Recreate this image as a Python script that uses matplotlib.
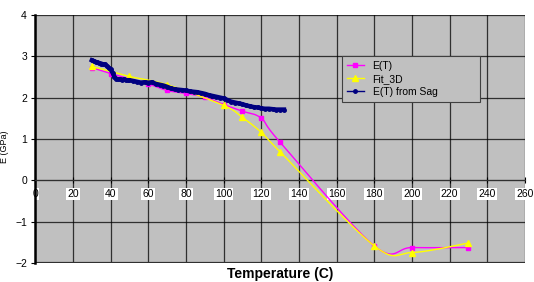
import numpy as np
import matplotlib
matplotlib.use("Agg")
import matplotlib.pyplot as plt

plt.rcParams['font.family'] = ['Liberation Sans', 'DejaVu Sans']

# E(T) measured points
t_e = [30, 40, 50, 60, 70, 80, 90, 100, 110, 120, 130, 180, 200, 230]
e_e = [2.72, 2.58, 2.45, 2.33, 2.17, 2.10, 2.01, 1.83, 1.67, 1.50, 0.92, -1.58, -1.62, -1.62]

# Fit_3D points
t_fit = [30, 50, 70, 100, 110, 120, 130, 180, 200, 230]
e_fit = [2.75, 2.51, 2.31, 1.81, 1.52, 1.16, 0.69, -1.58, -1.74, -1.51]

# E(T) from Sag (dense trace)
t_sag = [30, 31, 32, 33, 34, 35, 36, 37, 38, 39, 40, 41, 42, 43, 44, 45, 46, 47, 48, 49,
         50, 52, 54, 56, 58, 60, 62, 64, 66, 68, 70, 72, 74, 76, 78, 80, 82, 84, 86, 88,
         90, 92, 94, 96, 98, 100, 102, 104, 106, 108, 110, 112, 114, 116, 118, 120, 122,
         124, 126, 128, 130, 132]
e_sag = [2.90, 2.88, 2.86, 2.85, 2.83, 2.82, 2.80, 2.80, 2.76, 2.72, 2.68, 2.60, 2.50,
         2.45, 2.44, 2.44, 2.43, 2.44, 2.42, 2.42, 2.42, 2.40, 2.38, 2.36, 2.37, 2.36,
         2.37, 2.33, 2.31, 2.29, 2.26, 2.22, 2.20, 2.19, 2.18, 2.17, 2.15, 2.14, 2.13,
         2.11, 2.09, 2.06, 2.04, 2.02, 2.00, 1.98, 1.94, 1.90, 1.88, 1.86, 1.84, 1.81,
         1.79, 1.77, 1.76, 1.74, 1.73, 1.73, 1.72, 1.71, 1.71, 1.71]

x_ticks = list(range(0, 261, 20))
y_ticks = [-2, -1, 0, 1, 2, 3, 4]


def smooth(xs, ys, n=20):
    # Excel-style smoothed line (Catmull-Rom through the points)
    p = np.column_stack([xs, ys]).astype(float)
    p = np.vstack([p[0], p, p[-1]])
    out = []
    for i in range(1, len(p) - 2):
        p0, p1, p2, p3 = p[i - 1], p[i], p[i + 1], p[i + 2]
        for t in np.linspace(0, 1, n, endpoint=False):
            out.append(0.5 * ((2 * p1) + (-p0 + p2) * t
                              + (2 * p0 - 5 * p1 + 4 * p2 - p3) * t ** 2
                              + (-p0 + 3 * p1 - 3 * p2 + p3) * t ** 3))
    out.append(p[-2])
    out = np.array(out)
    return out[:, 0], out[:, 1]


fig = plt.figure(figsize=(5.34, 2.82), dpi=100)
ax = fig.add_axes([0.0661, 0.0663, 0.9170, 0.8817])
ax.set_facecolor('#c0c0c0')

sx, sy = smooth(t_e, e_e)
ax.plot(sx, sy, color='#ff00ff', lw=1.0, zorder=3)
ax.plot(t_e, e_e, ls='none', marker='s', ms=3.5, color='#ff00ff', zorder=3)
ax.plot([], [], color='#ff00ff', lw=1.0, marker='s', ms=3.5, label='E(T)')

fx, fy = smooth(t_fit, e_fit)
ax.plot(fx, fy, color='#ffff00', lw=1.0, zorder=3)
ax.plot(t_fit, e_fit, ls='none', marker='^', ms=4, color='#ffff00', zorder=3)
ax.plot([], [], color='#ffff00', lw=1.0, marker='^', ms=4, label='Fit_3D')

ax.plot(t_sag, e_sag, color='#000080', lw=3.2, marker='o', ms=2.5, zorder=4)
ax.plot([], [], color='#000080', lw=1.0, marker='o', ms=2.5, label='E(T) from Sag')

ax.set_xlim(0, 260)
ax.set_ylim(-2, 4)
ax.set_xticks(x_ticks)
ax.set_yticks(y_ticks)
ax.grid(True, color='#000000', lw=0.9, alpha=0.75)
ax.set_axisbelow(True)

ax.spines['bottom'].set_position(('data', 0))
ax.spines['bottom'].set_color('#303030')
ax.spines['left'].set_linewidth(1.8)
ax.spines['top'].set_visible(False)
ax.spines['right'].set_visible(False)
ax.axhline(-2, color='#303030', lw=1.6, zorder=2)

ax.tick_params(axis='x', direction='inout', length=4, labelsize=7.5, pad=4)
ax.tick_params(axis='y', direction='out', length=3, labelsize=7.5, pad=3)
for lab in ax.get_xticklabels():
    lab.set_bbox(dict(facecolor='white', edgecolor='none', pad=0.8))

ax.set_xlabel('Temperature (C)', fontsize=10, fontweight='bold', va='center')
ax.xaxis.set_label_coords(0.5, -0.043)
fig.text(0.0, 0.48, 'E (GPa)', rotation=90, fontsize=6.5, ha='left', va='center')

leg = ax.legend(loc='upper left', bbox_to_anchor=(0.626, 0.834, 0.282, 0.0),
                mode='expand', fontsize=7.5, frameon=True, fancybox=False,
                handlelength=1.7, borderpad=0.45, labelspacing=0.3, borderaxespad=0)
leg.get_frame().set_facecolor('#c0c0c0')
leg.get_frame().set_edgecolor('#404040')
leg.get_frame().set_alpha(1)
leg.get_frame().set_linewidth(0.8)

fig.savefig('out.png', dpi=100)
